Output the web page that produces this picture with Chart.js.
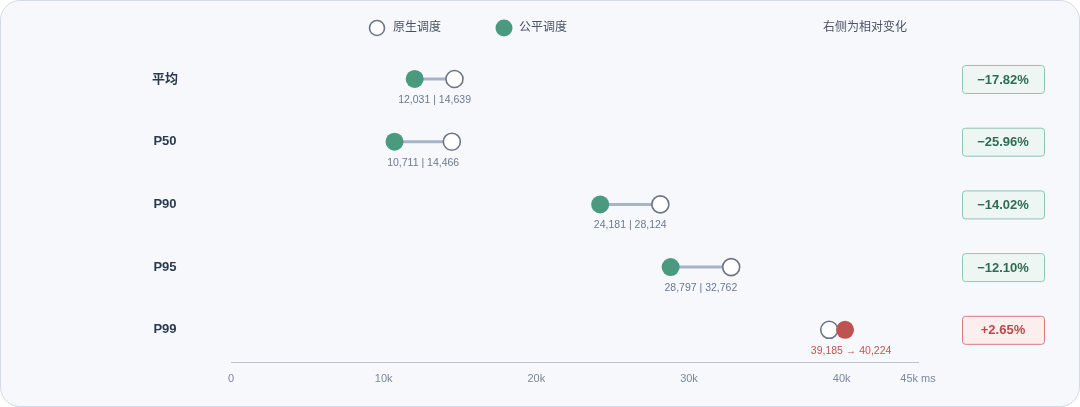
<!DOCTYPE html>
<html>
<head>
<meta charset="utf-8">
<script src="https://cdn.jsdelivr.net/npm/chart.js@4.4.1/dist/chart.umd.min.js"></script>
<style>
    html, body { margin: 0; padding: 0; background: #ffffff; }
    #card {
        position: absolute; left: 0; top: 0;
        width: 1078px; height: 405px;
        background: #f7f8fc;
        border: 1px solid #d3dbe8;
        border-radius: 20px;
        overflow: hidden;
    }
    #canvas { display: block; }
</style>
</head>
<body>
<div id="card">
    <canvas id="canvas" width="1078" height="405"></canvas>
</div>
<script>
// values (ms)
var categories = ['平均', 'P50', 'P90', 'P95', 'P99'];
var nativeValues = [14639, 14466, 28124, 32762, 39185];
var fairValues = [12031, 10711, 24181, 28797, 40224];
var changeLabels = ['\u221217.82%', '\u221225.96%', '\u221214.02%', '\u221212.10%', '+2.65%'];
var tickValues = [0, 10000, 20000, 30000, 40000, 45000];
var tickLabels = ['0', '10k', '20k', '30k', '40k', '45k ms'];

var GREEN = '#4a9a80';
var RED = '#bf5352';
var FONT = "'Liberation Sans', 'Noto Sans CJK SC', sans-serif";

function fmt(n) {
    return n.toLocaleString('en-US');
}

var datasets = [];

// connectors, one per row
categories.forEach(function (cat, i) {
    datasets.push({
        type: 'line',
        data: [{x: fairValues[i], y: i}, {x: nativeValues[i], y: i}],
        borderColor: '#a7b4c8',
        borderWidth: 3,
        pointRadius: 0,
        showLine: true,
        fill: false,
        order: 3
    });
});

datasets.push({
    label: '原生调度',
    type: 'scatter',
    data: nativeValues.map(function (v, i) { return {x: v, y: i}; }),
    pointRadius: 8.5,
    pointHoverRadius: 8.5,
    pointBackgroundColor: '#ffffff',
    pointBorderColor: '#6c7585',
    pointBorderWidth: 1.6,
    order: 2
});

datasets.push({
    label: '公平调度',
    type: 'scatter',
    data: fairValues.map(function (v, i) { return {x: v, y: i}; }),
    pointRadius: 9,
    pointHoverRadius: 9,
    pointBackgroundColor: fairValues.map(function (v, i) { return v <= nativeValues[i] ? GREEN : RED; }),
    pointBorderWidth: 0,
    order: 1
});

var decorPlugin = {
    id: 'decor',
    afterDatasetsDraw: function (chart) {
        var ctx = chart.ctx;
        var xs = chart.scales.x;
        var ys = chart.scales.y;
        ctx.save();

        // legend
        ctx.beginPath();
        ctx.arc(376, 27, 7.5, 0, Math.PI * 2);
        ctx.fillStyle = '#ffffff';
        ctx.fill();
        ctx.lineWidth = 1.6;
        ctx.strokeStyle = '#6c7585';
        ctx.stroke();
        ctx.beginPath();
        ctx.arc(503, 27, 8.5, 0, Math.PI * 2);
        ctx.fillStyle = GREEN;
        ctx.fill();
        ctx.font = '12px ' + FONT;
        ctx.fillStyle = '#4a5466';
        ctx.textBaseline = 'middle';
        ctx.textAlign = 'left';
        ctx.fillText('原生调度', 392, 27);
        ctx.fillText('公平调度', 518, 27);
        ctx.textAlign = 'center';
        ctx.fillText('右侧为相对变化', 864, 27);

        categories.forEach(function (cat, i) {
            var y = ys.getPixelForValue(i);

            // row name
            ctx.font = 'bold 13px ' + FONT;
            ctx.fillStyle = '#2b3a4f';
            ctx.textAlign = 'center';
            ctx.fillText(cat, 164, y);

            // value label under the pair
            var better = fairValues[i] <= nativeValues[i];
            var x1 = xs.getPixelForValue(fairValues[i]);
            var x2 = xs.getPixelForValue(nativeValues[i]);
            ctx.font = '10.5px ' + FONT;
            ctx.fillStyle = better ? '#6b7a90' : RED;
            var txt, cx;
            if (better) {
                txt = fmt(fairValues[i]) + ' | ' + fmt(nativeValues[i]);
                cx = (x1 + x2) / 2;
            } else {
                txt = fmt(nativeValues[i]) + ' \u2192 ' + fmt(fairValues[i]);
                cx = x1 + 6;
            }
            ctx.fillText(txt, cx, y + 21);

            // change badge
            var bx = 961, bw = 82, bh = 28;
            ctx.beginPath();
            ctx.roundRect(bx + 0.5, y - bh / 2 + 0.5, bw, bh, 3);
            ctx.fillStyle = better ? '#edf6f2' : '#fdeeee';
            ctx.fill();
            ctx.lineWidth = 1;
            ctx.strokeStyle = better ? '#8cc7af' : '#d97a7b';
            ctx.stroke();
            ctx.font = 'bold 13px ' + FONT;
            ctx.fillStyle = better ? '#2f6c55' : '#b94a4a';
            ctx.fillText(changeLabels[i], bx + bw / 2, y + 1);
        });

        ctx.restore();
    }
};

const CHART = document.getElementById('canvas');
var dumbbellChart = new Chart(CHART, {
    type: 'scatter',
    data: {datasets: datasets},
    options: {
        responsive: false,
        animation: false,
        events: [],
        layout: {
            padding: {left: 230, right: 161, top: 46, bottom: 10}
        },
        plugins: {
            legend: {display: false},
            tooltip: {enabled: false}
        },
        scales: {
            x: {
                type: 'linear',
                min: 0,
                max: 45000,
                grid: {display: false, drawTicks: false},
                border: {display: true, color: '#b9c5d6', width: 1},
                afterBuildTicks: function (axis) {
                    axis.ticks = tickValues.map(function (v) { return {value: v}; });
                },
                ticks: {
                    padding: 10,
                    autoSkip: false,
                    maxRotation: 0,
                    color: '#7b889c',
                    font: {size: 11, family: FONT},
                    callback: function (value) {
                        var idx = tickValues.indexOf(value);
                        return idx >= 0 ? tickLabels[idx] : '';
                    }
                }
            },
            y: {
                type: 'linear',
                min: -0.51,
                max: 4.526,
                reverse: true,
                display: false
            }
        }
    },
    plugins: [decorPlugin]
});
</script>
</body>
</html>
